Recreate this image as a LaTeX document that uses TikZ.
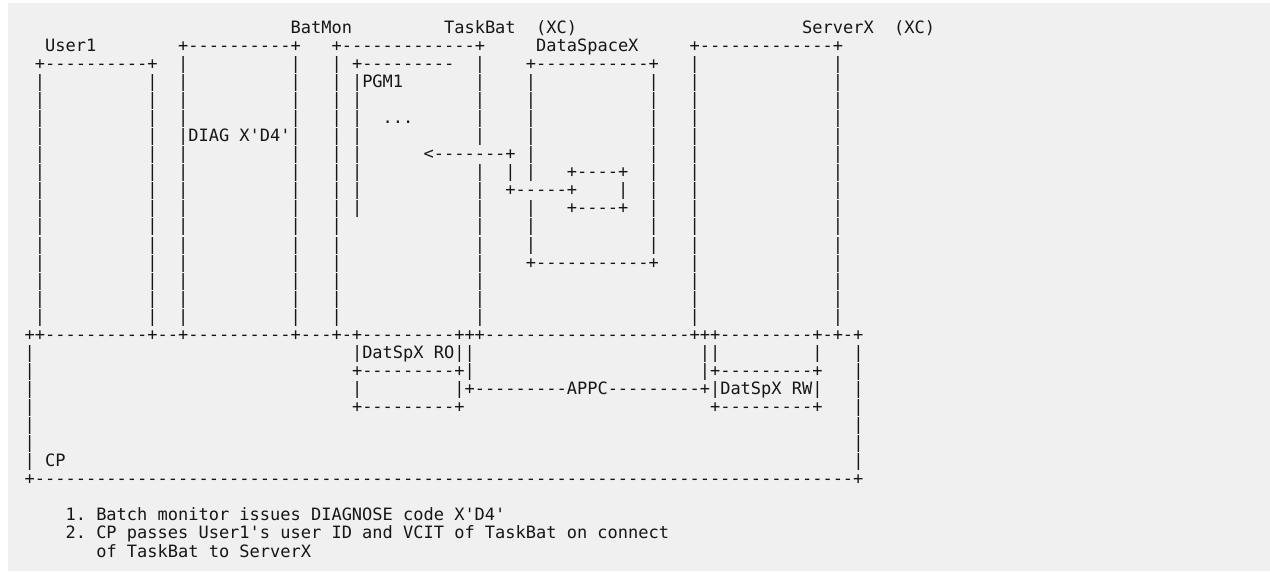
\documentclass[tikz,border=0pt]{standalone}
\usepackage{fontspec}
\setmonofont{DejaVu Sans Mono}
\definecolor{bg}{HTML}{F0F0F0}
\definecolor{ink}{HTML}{161616}
\tikzset{txt/.style={anchor=base west, inner sep=0pt, outer sep=0pt, text=ink,
  font=\ttfamily\fontsize{12.744pt}{13.5pt}\selectfont}}
\newcommand\segm[3]{\node[txt] (s#1-#2) at (#1,#2) {#3};}
\begin{document}
\begin{tikzpicture}
\useasboundingbox (0,0) rectangle (952.5pt,-428.25pt);
\fill[bg] (6pt,-2.5pt) rectangle (952.5pt,-428.25pt);
\begin{scope}[shift={(18.495pt,-24.975pt)}, x=7.6725pt, y=-13.545pt]
% row 0
\segm{26}{0}{BatMon}\segm{41}{0}{TaskBat~~(XC)}\segm{76}{0}{ServerX~~(XC)}
% row 1
\segm{2}{1}{User1}\segm{15}{1}{+----------+}\segm{30}{1}{+-------------+}
\segm{50}{1}{DataSpaceX}\segm{65}{1}{+-------------+}
% row 2
\segm{1}{2}{+----------+}\segm{15}{2}{|}\segm{26}{2}{|}\segm{30}{2}{|}
\segm{32}{2}{+---------}\segm{44}{2}{|}\segm{49}{2}{+-----------+}
\segm{65}{2}{|}\segm{79}{2}{|}
% row 3
\segm{1}{3}{|}\segm{12}{3}{|}\segm{15}{3}{|}\segm{26}{3}{|}\segm{30}{3}{|}
\segm{32}{3}{|PGM1}\segm{44}{3}{|}\segm{49}{3}{|}\segm{61}{3}{|}
\segm{65}{3}{|}\segm{79}{3}{|}
% row 4
\segm{1}{4}{|}\segm{12}{4}{|}\segm{15}{4}{|}\segm{26}{4}{|}\segm{30}{4}{|}
\segm{32}{4}{|}\segm{44}{4}{|}\segm{49}{4}{|}\segm{61}{4}{|}
\segm{65}{4}{|}\segm{79}{4}{|}
% row 5
\segm{1}{5}{|}\segm{12}{5}{|}\segm{15}{5}{|}\segm{26}{5}{|}\segm{30}{5}{|}
\segm{32}{5}{|}\segm{35}{5}{...}\segm{44}{5}{|}\segm{49}{5}{|}\segm{61}{5}{|}
\segm{65}{5}{|}\segm{79}{5}{|}
% row 6
\segm{1}{6}{|}\segm{12}{6}{|}\segm{15}{6}{|DIAG~X'D4'|}\segm{30}{6}{|}
\segm{32}{6}{|}\segm{44}{6}{|}\segm{49}{6}{|}\segm{61}{6}{|}
\segm{65}{6}{|}\segm{79}{6}{|}
% row 7
\segm{1}{7}{|}\segm{12}{7}{|}\segm{15}{7}{|}\segm{26}{7}{|}\segm{30}{7}{|}
\segm{32}{7}{|}\segm{39}{7}{<-------+}\segm{49}{7}{|}\segm{61}{7}{|}
\segm{65}{7}{|}\segm{79}{7}{|}
% row 8
\segm{1}{8}{|}\segm{12}{8}{|}\segm{15}{8}{|}\segm{26}{8}{|}\segm{30}{8}{|}
\segm{32}{8}{|}\segm{44}{8}{|}\segm{47}{8}{|}\segm{49}{8}{|}\segm{53}{8}{+----+}
\segm{61}{8}{|}\segm{65}{8}{|}\segm{79}{8}{|}
% row 9
\segm{1}{9}{|}\segm{12}{9}{|}\segm{15}{9}{|}\segm{26}{9}{|}\segm{30}{9}{|}
\segm{32}{9}{|}\segm{44}{9}{|}\segm{47}{9}{+-----+}\segm{58}{9}{|}
\segm{61}{9}{|}\segm{65}{9}{|}\segm{79}{9}{|}
% row 10
\segm{1}{10}{|}\segm{12}{10}{|}\segm{15}{10}{|}\segm{26}{10}{|}\segm{30}{10}{|}
\segm{32}{10}{|}\segm{44}{10}{|}\segm{49}{10}{|}\segm{53}{10}{+----+}
\segm{61}{10}{|}\segm{65}{10}{|}\segm{79}{10}{|}
% row 11
\segm{1}{11}{|}\segm{12}{11}{|}\segm{15}{11}{|}\segm{26}{11}{|}\segm{30}{11}{|}
\segm{44}{11}{|}\segm{49}{11}{|}\segm{61}{11}{|}\segm{65}{11}{|}\segm{79}{11}{|}
% row 12
\segm{1}{12}{|}\segm{12}{12}{|}\segm{15}{12}{|}\segm{26}{12}{|}\segm{30}{12}{|}
\segm{44}{12}{|}\segm{49}{12}{|}\segm{61}{12}{|}\segm{65}{12}{|}\segm{79}{12}{|}
% row 13
\segm{1}{13}{|}\segm{12}{13}{|}\segm{15}{13}{|}\segm{26}{13}{|}\segm{30}{13}{|}
\segm{44}{13}{|}\segm{49}{13}{+-----------+}\segm{65}{13}{|}\segm{79}{13}{|}
% rows 14-16
\segm{1}{14}{|}\segm{12}{14}{|}\segm{15}{14}{|}\segm{26}{14}{|}\segm{30}{14}{|}
\segm{44}{14}{|}\segm{65}{14}{|}\segm{79}{14}{|}
\segm{1}{15}{|}\segm{12}{15}{|}\segm{15}{15}{|}\segm{26}{15}{|}\segm{30}{15}{|}
\segm{44}{15}{|}\segm{65}{15}{|}\segm{79}{15}{|}
\segm{1}{16}{|}\segm{12}{16}{|}\segm{15}{16}{|}\segm{26}{16}{|}\segm{30}{16}{|}
\segm{44}{16}{|}\segm{65}{16}{|}\segm{79}{16}{|}
% row 17
\segm{0}{17}{++----------+--+----------+---+-+---------+++--------------------+++---------+-+-+}
% row 18
\segm{0}{18}{|}\segm{32}{18}{|DatSpX~RO||}\segm{66}{18}{||}\segm{77}{18}{|}\segm{81}{18}{|}
% row 19
\segm{0}{19}{|}\segm{32}{19}{+---------+|}\segm{66}{19}{|+---------+}\segm{81}{19}{|}
% row 20
\segm{0}{20}{|}\segm{32}{20}{|}\segm{42}{20}{|+---------APPC---------+|DatSpX~RW|}\segm{81}{20}{|}
% row 21
\segm{0}{21}{|}\segm{32}{21}{+---------+}\segm{67}{21}{+---------+}\segm{81}{21}{|}
% rows 22-24
\segm{0}{22}{|}\segm{81}{22}{|}
\segm{0}{23}{|}\segm{81}{23}{|}
\segm{0}{24}{|~CP}\segm{81}{24}{|}
% row 25
\segm{0}{25}{+--------------------------------------------------------------------------------+}
% notes
\segm{4}{27}{1.~Batch~monitor~issues~DIAGNOSE~code~X'D4'}
\segm{4}{28}{2.~CP~passes~User1's~user~ID~and~VCIT~of~TaskBat~on~connect}
\segm{7}{29}{of~TaskBat~to~ServerX}
\end{scope}
\end{tikzpicture}
\end{document}
